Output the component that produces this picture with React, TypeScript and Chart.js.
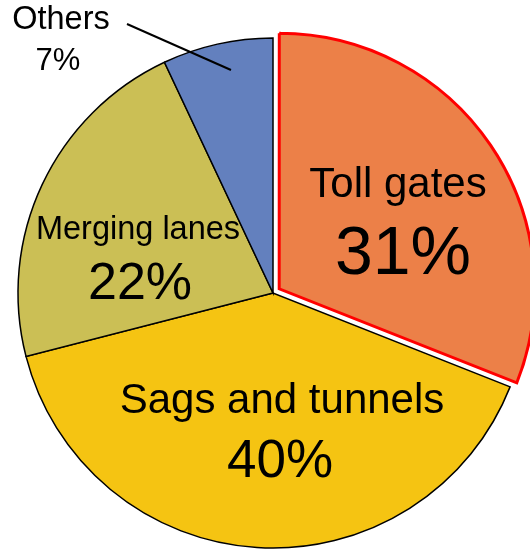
import React, { useEffect, useRef } from "react";
import { Chart, registerables } from "chart.js";

Chart.register(...registerables);

const categories = ["Toll gates", "Sags and tunnels", "Merging lanes", "Others"];
const shares = [31, 40, 22, 7];
const sliceColors = ["#EC8048", "#F5C412", "#CBBF55", "#6380BE"];
const sliceBorders = ["#FF0000", "#000000", "#000000", "#000000"];
const borderWidths = [3, 1.5, 1.5, 1.5];
const offsets = [30, 0, 0, 0];

const FONT = "'Liberation Sans', Arial, sans-serif";

const labelPlugin = {
  id: "pieLabels",
  afterDraw(chart: any) {
    const ctx = chart.ctx;
    ctx.save();
    ctx.fillStyle = "#000";
    ctx.textAlign = "center";
    ctx.textBaseline = "alphabetic";
    const pct = (i: number) => shares[i] + "%";
    const draw = (t: string, x: number, y: number, size: number) => {
      ctx.font = `${size}px ${FONT}`;
      ctx.fillText(t, x, y);
    };
    draw(categories[0], 398, 197, 42);
    draw(pct(0), 403, 274, 68);
    draw(categories[1], 282, 413, 42);
    draw(pct(1), 280, 477, 53);
    draw(categories[2], 138, 239, 32.5);
    draw(pct(2), 140, 299, 52);
    draw(categories[3], 61, 29, 32.5);
    draw(pct(3), 58, 70, 31);
    ctx.strokeStyle = "#000";
    ctx.lineWidth = 2;
    ctx.beginPath();
    ctx.moveTo(127, 24);
    ctx.lineTo(231, 70);
    ctx.stroke();
    ctx.restore();
  },
};

export default function App() {
  const ref = useRef<HTMLCanvasElement>(null);
  useEffect(() => {
    if (!ref.current) return;
    const chart = new Chart(ref.current, {
      type: "pie",
      data: {
        labels: categories,
        datasets: [
          {
            data: shares,
            backgroundColor: sliceColors,
            borderColor: sliceBorders,
            borderWidth: borderWidths,
            offset: offsets,
            borderJoinStyle: "miter",
          } as any,
        ],
      },
      options: {
        animation: false,
        responsive: false,
        maintainAspectRatio: false,
        radius: 255,
        layout: { padding: { left: 16, right: 0, top: 37, bottom: 0 } },
        plugins: { legend: { display: false }, tooltip: { enabled: false } },
      } as any,
      plugins: [labelPlugin],
    });
    return () => chart.destroy();
  }, []);
  return (
    <div style={{ position: "absolute", left: 0, top: 0, width: 530, height: 549, background: "#fff" }}>
      <canvas ref={ref} width={530} height={549} style={{ width: 530, height: 549 }} />
    </div>
  );
}
